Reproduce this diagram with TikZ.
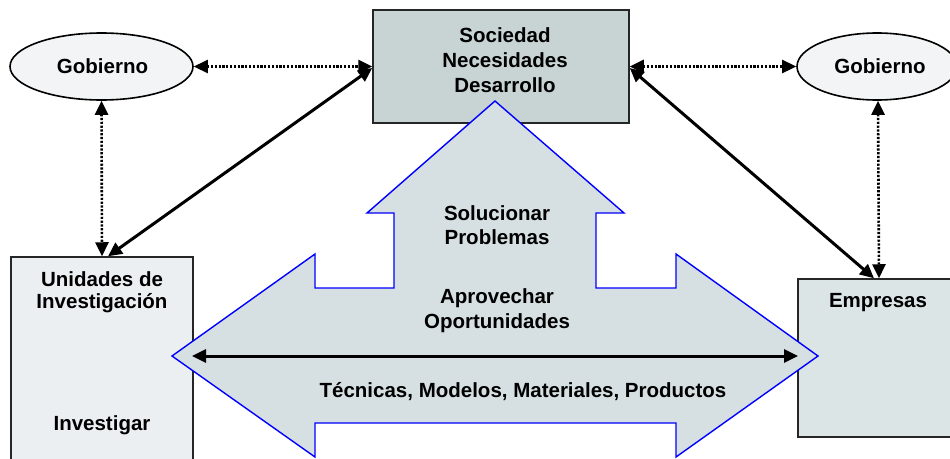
\documentclass[tikz,border=0pt]{standalone}
\usepackage{fontspec}
\setmainfont{Liberation Sans}
\usetikzlibrary{arrows.meta,shapes.geometric}
\definecolor{socfill}{HTML}{C8D3D3}
\definecolor{ellfill}{HTML}{F2F4F5}
\definecolor{unifill}{HTML}{ECEFF1}
\definecolor{empfill}{HTML}{DCE5E6}
\definecolor{arrfill}{HTML}{D6E0E2}
\definecolor{arrline}{HTML}{0000FF}
\tikzset{
  x=1pt, y=-1pt,
  lbl/.style={font=\fontsize{20.5}{25}\selectfont\bfseries, align=center, inner sep=0pt},
  boxnode/.style={draw=black!85, line width=1.5pt, rectangle, inner sep=0pt},
  ellnode/.style={draw=black, line width=1.6pt, ellipse, fill=ellfill, inner sep=0pt},
  dottedlink/.style={line width=2.6pt, dash pattern=on 2.2pt off 1.6pt, {Triangle[length=14pt,width=13pt]}-{Triangle[length=14pt,width=13pt]}},
  solidlink/.style={line width=3pt, {Triangle[length=14pt,width=13pt]}-{Triangle[length=14pt,width=13pt]}},
  bigarrow/.style={draw=arrline, line width=1.4pt, fill=arrfill, line join=miter}
}
\begin{document}
\begin{tikzpicture}
\useasboundingbox (0,0) rectangle (950,458);
% boxes
\node[boxnode, fill=socfill, minimum width=256pt, minimum height=113pt] (soc) at (501,66.5) {};
\node[boxnode, fill=unifill, minimum width=182pt, minimum height=226pt] (uni) at (102,370) {};
\node[boxnode, fill=empfill, minimum width=154pt, minimum height=158pt] (emp) at (875,358) {};
% ellipses
\node[ellnode, minimum width=183pt, minimum height=67pt] (gl) at (101.5,66.5) {};
\node[ellnode, minimum width=160pt, minimum height=67pt] (gr) at (877,66.5) {};
% big combined arrow
\draw[bigarrow] (172,356) -- (315,254) -- (315,288) -- (394,288) -- (394,213) -- (367,213)
  -- (495,101) -- (624,213) -- (596,213) -- (596,288) -- (676,288) -- (676,254)
  -- (818,356) -- (676,457) -- (676,423) -- (315,423) -- (315,457) -- cycle;
% texts
\node[lbl] (t1) at (505,60) {Sociedad\\Necesidades\\Desarrollo};
\node[lbl] (t2) at (102.5,66) {Gobierno};
\node[lbl] (t3) at (880,66) {Gobierno};
\node[lbl, font=\fontsize{20.5}{22}\selectfont\bfseries] (t4) at (102,292.5) {Unidades de\\Investigación};
\node[lbl] (t5) at (102,425) {Investigar};
\node[lbl] (t6) at (878,303) {Empresas};
\node[lbl, font=\fontsize{20.5}{24}\selectfont\bfseries] (t7) at (497,225) {Solucionar\\Problemas};
\node[lbl] (t8) at (497,310.5) {Aprovechar\\Oportunidades};
\node[lbl] (t9) at (523,392) {Técnicas, Modelos, Materiales, Productos};
% inner double arrow
\coordinate (tl) at (192,356);
\coordinate (tr) at (798,356);
\draw[solidlink] (tl) -- (tr);
% connectors
\draw[dottedlink] (gl) -- (soc);
\draw[dottedlink] (soc) -- (gr);
\draw[dottedlink] (gl.south) -- (uni.north);
\draw[dottedlink] ([xshift=1pt]gr.south) -- ([xshift=4pt]emp.north);
\draw[solidlink] ([xshift=6pt]uni.north) -- ([yshift=-1.5pt]soc.west);
\draw[solidlink] ([yshift=-1.5pt]soc.east) -- ([xshift=-1pt]emp.north);
\end{tikzpicture}
\end{document}
